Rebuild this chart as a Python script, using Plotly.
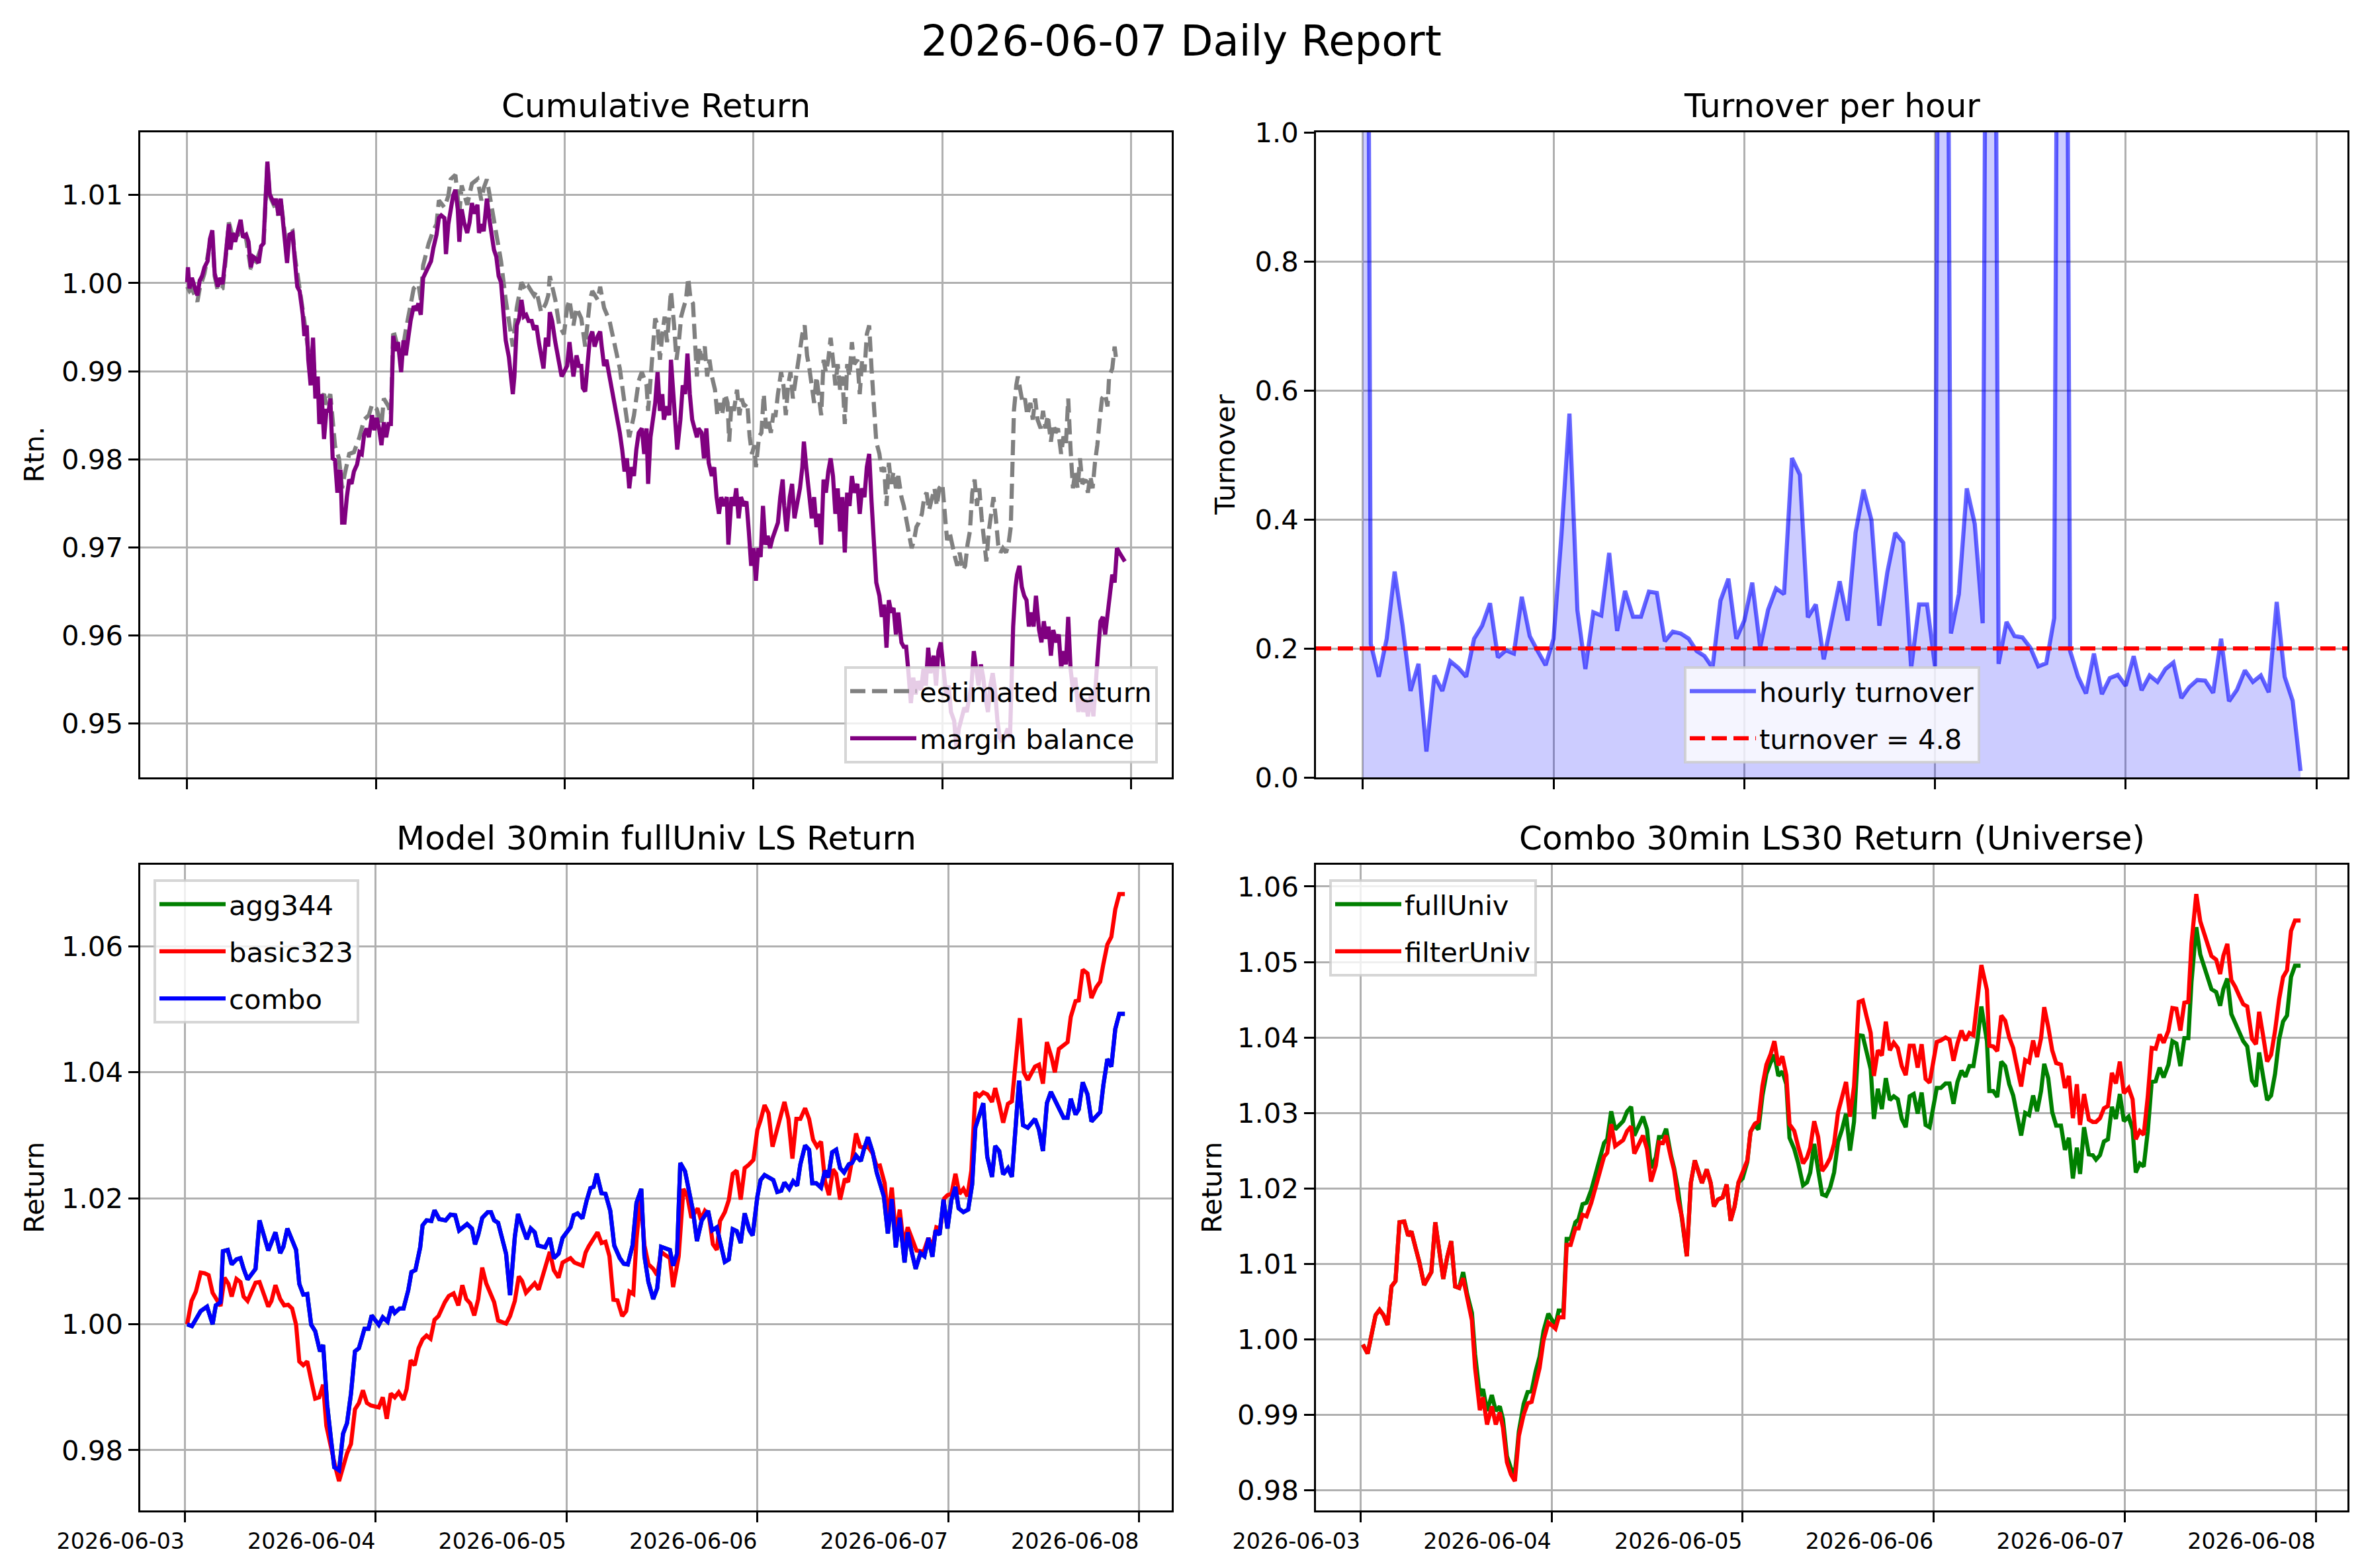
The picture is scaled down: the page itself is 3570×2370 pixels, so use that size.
import pandas as pd
import plotly.graph_objects as go

START = pd.Timestamp("2026-06-03 00:00")
REPORT_TITLE = "2026-06-07 Daily Report"

# ---------------- Cumulative Return: (hours since start, value) ----------------
est_return = [(0.0,0.9996),(0.3,0.9991),(0.6,0.9994),(1.0,0.9984),(1.3,0.9979),(1.6,0.9994),(2.2,1.0011),(2.9,1.0045),(3.2,1.0055),(3.5,1.0008),(3.9,0.9991),(4.5,0.9994),(4.8,1.0018),(5.3,1.0069),(5.8,1.0052),(6.5,1.0055),(6.8,1.0067),(7.5,1.0050),(8.1,1.0016),(8.7,1.0023),(9.4,1.0040),(9.7,1.0042),(10.0,1.0106),(10.2,1.0135),(10.5,1.0099),(11.1,1.0087),(11.6,1.0077),(11.9,1.0094),(12.5,1.0050),(13.0,1.0057),(13.4,1.0059),(13.7,1.0030),(14.3,0.9996),(14.9,0.9957),(15.4,0.9923),(16.0,0.9918),(16.3,0.9888),(16.8,0.9869),(17.4,0.9874),(17.7,0.9862),(18.2,0.9874),(18.8,0.9815),(19.3,0.9801),(19.7,0.9767),(20.0,0.9782),(20.6,0.9806),(21.2,0.9808),(21.9,0.9825),(22.5,0.9845),(23.1,0.9850),(23.5,0.9862),(24.1,0.9857),(24.7,0.9838),(25.0,0.9869),(25.6,0.9860),(25.9,0.9850),(26.2,0.9947),(26.5,0.9938),(27.2,0.9913),(27.8,0.9947),(28.4,0.9972),(28.8,0.9994),(29.4,0.9999),(29.7,0.9981),(30.0,1.0020),(30.7,1.0045),(31.3,1.0060),(31.7,1.0067),(32.0,1.0094),(32.7,1.0086),(33.2,1.0099),(33.5,1.0118),(34.1,1.0123),(34.6,1.0079),(34.9,1.0111),(35.6,1.0089),(36.2,1.0113),(36.9,1.0118),(37.4,1.0094),(37.7,1.0108),(38.1,1.0118),(38.7,1.0089),(39.3,1.0060),(39.9,1.0025),(40.5,0.9981),(40.9,0.9957),(41.4,0.9928),(41.9,0.9972),(42.2,0.9986),(42.5,1.0001),(43.1,0.9991),(43.4,0.9996),(44.1,0.9986),(44.4,0.9991),(45.0,0.9967),(45.6,0.9977),(45.9,0.9986),(46.1,1.0008),(46.8,0.9981),(47.3,0.9952),(47.9,0.9942),(48.3,0.9972),(48.6,0.9981),(49.1,0.9952),(49.5,0.9972),(50.1,0.9960),(50.6,0.9928),(50.9,0.9957),(51.2,0.9981),(51.5,0.9991),(52.2,0.9981),(52.5,0.9996),(53.0,0.9972),(53.7,0.9957),(54.3,0.9933),(55.0,0.9903),(55.6,0.9864),(55.9,0.9845),(56.2,0.9825),(56.8,0.9850),(57.4,0.9889),(57.8,0.9899),(58.4,0.9884),(58.6,0.9855),(58.9,0.9894),(59.2,0.9928),(59.5,0.9960),(59.8,0.9952),(60.1,0.9913),(60.4,0.9942),(60.7,0.9962),(61.0,0.9933),(61.3,0.9967),(61.5,0.9991),(61.9,0.9952),(62.2,0.9913),(62.5,0.9933),(62.8,0.9962),(63.1,0.9972),(63.4,0.9981),(63.7,1.0006),(64.0,0.9981),(64.3,0.9977),(64.6,0.9923),(64.8,0.9894),(65.1,0.9928),(65.4,0.9913),(65.8,0.9928),(66.1,0.9894),(66.4,0.9913),(66.7,0.9894),(67.1,0.9879),(67.4,0.9850),(67.7,0.9864),(68.0,0.9850),(68.4,0.9874),(68.7,0.9864),(68.9,0.9820),(69.2,0.9864),(69.5,0.9855),(69.9,0.9879),(70.2,0.9850),(70.5,0.9869),(70.8,0.9860),(71.2,0.9864),(71.5,0.9826),(71.8,0.9806),(72.1,0.9816),(72.3,0.9791),(72.7,0.9826),(73.0,0.9830),(73.3,0.9874),(73.6,0.9835),(73.9,0.9845),(74.2,0.9830),(74.5,0.9850),(74.8,0.9850),(75.1,0.9874),(75.5,0.9899),(75.8,0.9884),(76.1,0.9850),(76.4,0.9884),(76.7,0.9899),(77.0,0.9869),(77.3,0.9889),(77.6,0.9908),(77.9,0.9923),(78.2,0.9942),(78.5,0.9952),(78.8,0.9918),(79.1,0.9903),(79.4,0.9884),(79.7,0.9864),(80.0,0.9894),(80.3,0.9869),(80.6,0.9850),(80.9,0.9913),(81.2,0.9899),(81.5,0.9913),(81.8,0.9938),(82.1,0.9913),(82.4,0.9884),(82.7,0.9908),(83.0,0.9879),(83.3,0.9894),(83.6,0.9840),(83.9,0.9908),(84.2,0.9894),(84.5,0.9933),(84.8,0.9908),(85.2,0.9913),(85.5,0.9874),(85.8,0.9913),(86.1,0.9899),(86.4,0.9942),(86.7,0.9952),(87.0,0.9903),(87.3,0.9860),(87.6,0.9820),(88.0,0.9806),(88.3,0.9786),(88.6,0.9791),(88.9,0.9747),(89.2,0.9796),(89.5,0.9772),(89.8,0.9786),(90.1,0.9767),(90.4,0.9781),(90.8,0.9757),(91.1,0.9747),(91.4,0.9733),(91.7,0.9718),(92.1,0.9699),(92.4,0.9708),(92.7,0.9723),(93.0,0.9728),(93.4,0.9738),(93.7,0.9757),(94.0,0.9762),(94.3,0.9742),(94.7,0.9757),(95.0,0.9767),(95.3,0.9747),(95.6,0.9767),(96.0,0.9772),(96.3,0.9738),(96.6,0.9708),(96.9,0.9718),(97.2,0.9703),(97.6,0.9689),(97.9,0.9679),(98.2,0.9694),(98.6,0.9674),(98.9,0.9679),(99.2,0.9703),(99.5,0.9718),(99.8,0.9762),(100.1,0.9777),(100.4,0.9747),(100.7,0.9767),(101.0,0.9733),(101.3,0.9703),(101.6,0.9684),(101.9,0.9718),(102.2,0.9742),(102.5,0.9757),(102.8,0.9733),(103.1,0.9703),(103.4,0.9694),(103.7,0.9699),(104.1,0.9694),(104.4,0.9703),(104.7,0.9723),(104.9,0.9796),(105.1,0.9855),(105.4,0.9884),(105.6,0.9894),(105.9,0.9879),(106.2,0.9864),(106.5,0.9869),(106.8,0.9850),(107.2,0.9864),(107.5,0.9845),(107.8,0.9869),(108.1,0.9845),(108.5,0.9835),(108.8,0.9855),(109.1,0.9835),(109.4,0.9850),(109.8,0.9820),(110.1,0.9840),(110.4,0.9830),(110.7,0.9835),(111.1,0.9806),(111.4,0.9826),(111.7,0.9816),(112.0,0.9869),(112.3,0.9811),(112.6,0.9767),(112.9,0.9786),(113.2,0.9767),(113.5,0.9801),(113.8,0.9772),(114.2,0.9777),(114.5,0.9762),(114.8,0.9781),(115.1,0.9767),(115.4,0.9796),(115.7,0.9816),(116.0,0.9845),(116.3,0.9869),(116.7,0.9874),(117.0,0.9860),(117.2,0.9894),(117.6,0.9903),(117.9,0.9928),(118.1,0.9913)]

margin_balance = [(0.0,1.0001),(0.1,1.0018),(0.3,0.9994),(0.6,1.0006),(1.0,0.9994),(1.3,0.9986),(1.6,1.0003),(1.9,1.0008),(2.2,1.0018),(2.6,1.0025),(2.9,1.0050),(3.2,1.0060),(3.5,1.0011),(3.9,0.9996),(4.2,1.0006),(4.5,0.9999),(4.8,1.0023),(5.3,1.0067),(5.5,1.0038),(5.8,1.0057),(6.1,1.0047),(6.5,1.0062),(6.8,1.0072),(7.1,1.0052),(7.5,1.0055),(7.8,1.0047),(8.1,1.0018),(8.4,1.0030),(8.7,1.0028),(9.1,1.0023),(9.4,1.0042),(9.7,1.0045),(10.0,1.0108),(10.2,1.0138),(10.5,1.0101),(10.8,1.0096),(11.1,1.0089),(11.3,1.0096),(11.6,1.0077),(11.9,1.0096),(12.2,1.0069),(12.5,1.0042),(12.7,1.0023),(13.0,1.0055),(13.4,1.0057),(13.7,1.0025),(14.0,0.9996),(14.3,0.9991),(14.7,0.9964),(14.9,0.9940),(15.2,0.9952),(15.4,0.9913),(15.7,0.9884),(16.0,0.9938),(16.3,0.9869),(16.6,0.9894),(16.8,0.9840),(17.1,0.9874),(17.4,0.9823),(17.7,0.9855),(18.0,0.9855),(18.2,0.9869),(18.5,0.9801),(18.8,0.9799),(19.1,0.9762),(19.3,0.9786),(19.5,0.9786),(19.7,0.9728),(20.0,0.9728),(20.3,0.9757),(20.6,0.9777),(20.9,0.9772),(21.2,0.9786),(21.6,0.9794),(21.9,0.9808),(22.2,0.9806),(22.5,0.9828),(22.8,0.9835),(23.1,0.9825),(23.5,0.9850),(23.8,0.9833),(24.1,0.9847),(24.4,0.9835),(24.7,0.9816),(25.0,0.9842),(25.3,0.9825),(25.6,0.9840),(25.9,0.9840),(26.2,0.9940),(26.5,0.9923),(26.8,0.9933),(27.2,0.9899),(27.5,0.9935),(27.8,0.9918),(28.1,0.9942),(28.4,0.9957),(28.8,0.9974),(29.1,0.9969),(29.4,0.9977),(29.7,0.9964),(30.0,1.0006),(30.4,1.0013),(30.7,1.0020),(31.0,1.0025),(31.3,1.0040),(31.7,1.0055),(32.0,1.0074),(32.3,1.0077),(32.7,1.0074),(32.9,1.0033),(33.2,1.0067),(33.5,1.0084),(33.8,1.0099),(34.1,1.0106),(34.4,1.0084),(34.6,1.0047),(34.9,1.0084),(35.2,1.0069),(35.6,1.0057),(35.9,1.0069),(36.2,1.0091),(36.5,1.0079),(36.9,1.0089),(37.1,1.0057),(37.4,1.0067),(37.7,1.0059),(38.1,1.0096),(38.4,1.0074),(38.7,1.0052),(39.0,1.0038),(39.3,1.0030),(39.6,1.0008),(39.9,1.0001),(40.2,0.9972),(40.5,0.9935),(40.9,0.9916),(41.2,0.9894),(41.4,0.9874),(41.6,0.9894),(41.9,0.9952),(42.2,0.9960),(42.5,0.9981),(42.8,0.9962),(43.1,0.9964),(43.4,0.9957),(43.8,0.9957),(44.1,0.9947),(44.4,0.9952),(44.7,0.9933),(45.0,0.9918),(45.3,0.9903),(45.6,0.9938),(45.9,0.9928),(46.1,0.9967),(46.4,0.9957),(46.8,0.9933),(47.1,0.9918),(47.3,0.9903),(47.6,0.9894),(47.9,0.9899),(48.3,0.9906),(48.6,0.9933),(48.9,0.9913),(49.1,0.9894),(49.5,0.9918),(49.8,0.9906),(50.1,0.9906),(50.3,0.9881),(50.6,0.9877),(50.9,0.9911),(51.2,0.9938),(51.5,0.9945),(51.8,0.9928),(52.2,0.9940),(52.5,0.9945),(52.7,0.9928),(53.0,0.9906),(53.3,0.9913),(53.7,0.9894),(54.0,0.9879),(54.3,0.9864),(54.7,0.9850),(55.0,0.9830),(55.3,0.9811),(55.6,0.9786),(55.9,0.9801),(56.2,0.9767),(56.5,0.9791),(56.8,0.9781),(57.1,0.9811),(57.4,0.9830),(57.8,0.9835),(58.1,0.9806),(58.4,0.9835),(58.6,0.9772),(58.9,0.9825),(59.2,0.9845),(59.5,0.9864),(59.8,0.9899),(60.1,0.9855),(60.4,0.9874),(60.6,0.9845),(61.0,0.9860),(61.3,0.9850),(61.5,0.9913),(61.8,0.9874),(62.1,0.9845),(62.3,0.9811),(62.7,0.9845),(63.0,0.9884),(63.3,0.9874),(63.6,0.9920),(63.9,0.9874),(64.2,0.9845),(64.5,0.9835),(64.8,0.9825),(65.0,0.9835),(65.4,0.9830),(65.7,0.9801),(66.0,0.9835),(66.3,0.9796),(66.7,0.9781),(67.0,0.9791),(67.3,0.9757),(67.6,0.9738),(67.9,0.9757),(68.2,0.9747),(68.6,0.9757),(68.8,0.9703),(69.2,0.9757),(69.5,0.9747),(69.8,0.9767),(70.1,0.9733),(70.4,0.9757),(70.8,0.9747),(71.1,0.9752),(71.4,0.9718),(71.7,0.9679),(72.0,0.9699),(72.3,0.9662),(72.6,0.9699),(72.9,0.9689),(73.2,0.9747),(73.5,0.9703),(73.8,0.9713),(74.1,0.9699),(74.4,0.9710),(74.7,0.9718),(75.1,0.9728),(75.4,0.9757),(75.7,0.9777),(75.9,0.9747),(76.2,0.9718),(76.6,0.9757),(76.9,0.9772),(77.2,0.9733),(77.5,0.9747),(77.9,0.9767),(78.2,0.9791),(78.4,0.9820),(78.7,0.9791),(79.0,0.9762),(79.4,0.9733),(79.7,0.9757),(80.0,0.9723),(80.3,0.9738),(80.6,0.9703),(80.9,0.9777),(81.2,0.9762),(81.5,0.9786),(81.8,0.9801),(82.1,0.9781),(82.4,0.9738),(82.7,0.9767),(83.0,0.9718),(83.3,0.9757),(83.6,0.9694),(83.9,0.9762),(84.2,0.9747),(84.5,0.9781),(84.8,0.9762),(85.2,0.9772),(85.5,0.9738),(85.8,0.9767),(86.1,0.9757),(86.4,0.9791),(86.7,0.9806),(87.0,0.9752),(87.3,0.9699),(87.6,0.9660),(88.0,0.9645),(88.3,0.9621),(88.6,0.9635),(88.9,0.9586),(89.2,0.9640),(89.5,0.9626),(89.8,0.9631),(90.1,0.9601),(90.4,0.9626),(90.8,0.9592),(91.1,0.9587),(91.4,0.9587),(91.7,0.9557),(92.0,0.9523),(92.3,0.9552),(92.6,0.9533),(92.9,0.9548),(93.3,0.9538),(93.6,0.9562),(93.9,0.9543),(94.2,0.9586),(94.5,0.9557),(94.9,0.9577),(95.2,0.9543),(95.5,0.9582),(95.8,0.9592),(96.2,0.9557),(96.5,0.9533),(96.8,0.9543),(97.1,0.9513),(97.5,0.9503),(97.8,0.9472),(98.1,0.9494),(98.4,0.9503),(98.8,0.9518),(99.1,0.9513),(99.4,0.9528),(99.7,0.9543),(100.0,0.9582),(100.3,0.9562),(100.6,0.9543),(100.9,0.9567),(101.2,0.9552),(101.5,0.9528),(101.8,0.9513),(102.1,0.9543),(102.4,0.9557),(102.7,0.9538),(103.0,0.9503),(103.3,0.9484),(103.6,0.9479),(103.9,0.9484),(104.3,0.9494),(104.6,0.9484),(104.8,0.9552),(105.0,0.9610),(105.3,0.9655),(105.5,0.9669),(105.8,0.9679),(106.1,0.9655),(106.4,0.9645),(106.7,0.9640),(107.0,0.9610),(107.3,0.9626),(107.6,0.9610),(107.9,0.9645),(108.3,0.9606),(108.6,0.9592),(108.9,0.9616),(109.2,0.9596),(109.5,0.9610),(109.8,0.9577),(110.1,0.9606),(110.5,0.9592),(110.8,0.9601),(111.1,0.9562),(111.4,0.9582),(111.7,0.9567),(112.0,0.9621),(112.3,0.9562),(112.6,0.9538),(112.9,0.9552),(113.3,0.9513),(113.6,0.9533),(113.9,0.9513),(114.2,0.9528),(114.5,0.9508),(114.9,0.9533),(115.2,0.9508),(115.5,0.9552),(115.8,0.9582),(116.1,0.9616),(116.4,0.9621),(116.7,0.9601),(117.0,0.9621),(117.4,0.9650),(117.6,0.9669),(117.9,0.9660),(118.2,0.9699),(118.5,0.9694),(118.8,0.9689),(119.2,0.9684)]

# ---------------- Turnover per hour (one value per hour from START) ----------------
hourly_turnover = [3.5,0.207,0.156,0.215,0.319,0.235,0.134,0.176,0.040,0.158,0.134,0.180,0.170,0.156,0.215,0.235,0.270,0.186,0.197,0.192,
                   0.280,0.219,0.196,0.174,0.215,0.377,0.564,0.259,0.168,0.256,0.251,0.348,0.227,0.289,0.249,0.249,0.288,0.286,0.211,0.226,
                   0.223,0.215,0.196,0.188,0.170,0.274,0.308,0.215,0.243,0.302,0.202,0.260,0.293,0.284,0.495,0.469,0.248,0.268,0.183,0.243,
                   0.304,0.243,0.379,0.446,0.399,0.235,0.318,0.379,0.364,0.170,0.268,0.268,0.172,3.0,0.223,0.284,0.448,0.393,0.239,3.0,
                   0.176,0.241,0.219,0.217,0.201,0.172,0.177,0.247,3.0,0.196,0.156,0.130,0.192,0.129,0.154,0.159,0.142,0.188,0.135,0.158,
                   0.148,0.168,0.178,0.123,0.140,0.151,0.150,0.131,0.215,0.118,0.136,0.166,0.148,0.158,0.132,0.272,0.156,0.119,0.010]
DAILY_TURNOVER = 4.8

# ---------------- Model 30min fullUniv LS Return ----------------
combo = [(0.3,1.0000),(0.9,0.9997),(2.0,1.0021),(2.8,1.0028),(3.5,1.0000),(3.9,1.0030),(4.5,1.0035),(4.8,1.0116),(5.4,1.0118),(5.9,1.0095),(6.5,1.0103),(7.0,1.0105),(7.4,1.0088),(7.9,1.0071),(8.9,1.0088),(9.4,1.0165),(10.5,1.0117),(11.4,1.0146),(12.0,1.0113),(12.4,1.0123),(12.9,1.0152),(13.5,1.0132),(14.0,1.0118),(14.4,1.0064),(14.9,1.0047),(15.4,1.0048),(15.9,0.9999),(16.4,0.9989),(17.0,0.9957),(17.4,0.9967),(17.9,0.9873),(18.4,0.9816),(18.8,0.9773),(19.4,0.9768),(19.9,0.9826),(20.4,0.9843),(20.9,0.9890),(21.4,0.9957),(21.9,0.9962),(22.6,0.9993),(23.1,0.9993),(23.5,1.0014),(24.4,0.9999),(24.9,1.0011),(25.5,1.0004),(26.0,1.0028),(26.4,1.0018),(27.0,1.0025),(27.5,1.0025),(28.1,1.0054),(28.5,1.0083),(29.0,1.0086),(29.6,1.0122),(29.9,1.0157),(30.4,1.0165),(31.0,1.0164),(31.4,1.0181),(32.0,1.0167),(32.8,1.0165),(33.4,1.0174),(34.0,1.0173),(34.5,1.0149),(35.5,1.0159),(36.1,1.0152),(36.5,1.0127),(36.9,1.0142),(37.4,1.0169),(38.1,1.0178),(38.5,1.0178),(38.9,1.0165),(39.4,1.0161),(40.4,1.0112),(40.9,1.0046),(41.5,1.0139),(41.9,1.0175),(42.4,1.0156),(43.0,1.0135),(43.5,1.0152),(44.0,1.0146),(44.4,1.0125),(45.3,1.0122),(45.9,1.0137),(46.4,1.0105),(47.0,1.0112),(47.5,1.0137),(48.5,1.0154),(48.9,1.0173),(49.4,1.0176),(50.0,1.0168),(50.5,1.0195),(51.0,1.0216),(51.4,1.0218),(51.8,1.0239),(52.4,1.0208),(52.9,1.0207),(53.5,1.0180),(54.0,1.0125),(54.7,1.0105),(55.2,1.0096),(55.7,1.0095),(56.3,1.0125),(56.8,1.0193),(57.4,1.0215),(57.8,1.0108),(58.3,1.0067),(58.9,1.0040),(59.4,1.0057),(59.9,1.0123),(61.0,1.0118),(61.4,1.0093),(61.9,1.0112),(62.3,1.0256),(62.9,1.0243),(63.9,1.0180),(64.4,1.0132),(65.0,1.0165),(65.8,1.0180),(66.3,1.0149),(66.9,1.0154),(67.9,1.0099),(68.4,1.0103),(68.9,1.0151),(69.4,1.0148),(69.9,1.0129),(70.4,1.0176),(71.0,1.0149),(71.4,1.0141),(72.0,1.0203),(72.4,1.0229),(72.9,1.0237),(73.5,1.0232),(74.0,1.0229),(74.5,1.0210),(75.0,1.0212),(75.4,1.0225),(76.0,1.0215),(76.5,1.0227),(77.0,1.0220),(77.4,1.0254),(78.0,1.0284),(78.5,1.0277),(78.9,1.0224),(79.4,1.0224),(80.0,1.0217),(80.5,1.0244),(80.9,1.0233),(81.4,1.0273),(81.9,1.0277),(82.4,1.0248),(82.9,1.0241),(83.5,1.0254),(83.9,1.0256),(84.4,1.0268),(85.0,1.0259),(85.4,1.0278),(85.9,1.0297),(86.5,1.0273),(87.0,1.0241),(87.4,1.0224),(87.9,1.0203),(88.4,1.0144),(88.9,1.0199),(89.4,1.0122),(89.9,1.0169),(90.5,1.0098),(90.9,1.0146),(91.4,1.0115),(91.9,1.0088),(92.5,1.0113),(93.0,1.0108),(93.5,1.0137),(94.0,1.0107),(94.4,1.0149),(94.9,1.0142),(95.4,1.0198),(95.9,1.0152),(96.4,1.0198),(96.9,1.0218),(97.3,1.0184),(97.9,1.0178),(98.5,1.0182),(99.0,1.0222),(99.4,1.0312),(100.4,1.0351),(100.9,1.0266),(101.5,1.0234),(101.9,1.0283),(102.4,1.0275),(102.9,1.0238),(103.5,1.0248),(104.0,1.0234),(104.9,1.0387),(105.4,1.0316),(106.0,1.0312),(106.9,1.0326),(107.4,1.0309),(107.9,1.0275),(108.4,1.0351),(108.9,1.0369),(109.4,1.0355),(110.0,1.0341),(110.5,1.0328),(111.0,1.0328),(111.4,1.0358),(112.0,1.0333),(112.4,1.0341),(112.9,1.0384),(113.5,1.0365),(114.0,1.0322),(114.5,1.0328),(115.1,1.0337),(115.5,1.0380),(116.0,1.0421),(116.5,1.0409),(117.0,1.0469),(117.5,1.0493),(118.2,1.0493)]
agg344 = list(combo)  # agg344 coincides with combo and is hidden under it
basic323 = [(0.3,1.0000),(0.85,1.0037),(1.4,1.0052),(2.0,1.0082),(2.5,1.0081),(3.0,1.0078),(3.5,1.0050),(4.0,1.0040),(4.5,1.0029),(5.0,1.0074),(5.5,1.0064),(5.9,1.0044),(6.5,1.0072),(7.0,1.0067),(7.4,1.0044),(7.9,1.0037),(8.9,1.0066),(9.4,1.0067),(10.5,1.0028),(10.9,1.0037),(11.4,1.0062),(12.0,1.0040),(12.5,1.0030),(13.0,1.0031),(13.5,1.0025),(14.0,0.9999),(14.4,0.9941),(14.9,0.9935),(15.4,0.9941),(15.9,0.9911),(16.4,0.9882),(16.9,0.9884),(17.4,0.9904),(17.8,0.9839),(18.3,0.9809),(18.9,0.9775),(19.4,0.9751),(19.9,0.9775),(20.4,0.9795),(20.9,0.9810),(21.4,0.9865),(21.9,0.9875),(22.4,0.9895),(22.9,0.9875),(23.4,0.9871),(24.4,0.9868),(24.9,0.9884),(25.4,0.9850),(25.9,0.9890),(26.4,0.9884),(26.9,0.9892),(27.5,0.9880),(27.9,0.9897),(28.4,0.9943),(28.9,0.9935),(29.4,0.9962),(29.9,0.9976),(30.4,0.9982),(30.9,0.9977),(31.4,1.0007),(31.9,1.0013),(32.7,1.0035),(33.2,1.0045),(33.8,1.0049),(34.4,1.0030),(34.9,1.0062),(35.4,1.0040),(35.9,1.0033),(36.4,1.0014),(36.9,1.0040),(37.4,1.0090),(37.9,1.0065),(38.4,1.0050),(38.9,1.0035),(39.4,1.0006),(40.4,1.0001),(40.9,1.0013),(41.5,1.0037),(42.0,1.0076),(42.4,1.0069),(42.9,1.0050),(43.5,1.0058),(44.0,1.0065),(44.5,1.0055),(45.1,1.0084),(45.5,1.0098),(45.9,1.0115),(46.4,1.0086),(47.0,1.0074),(47.5,1.0098),(48.5,1.0105),(49.0,1.0098),(50.0,1.0093),(50.4,1.0114),(50.8,1.0124),(51.3,1.0135),(51.9,1.0146),(52.4,1.0129),(52.9,1.0131),(53.4,1.0108),(53.9,1.0039),(54.4,1.0038),(55.0,1.0013),(55.5,1.0021),(55.9,1.0052),(56.4,1.0048),(56.8,1.0135),(57.3,1.0203),(57.8,1.0125),(58.3,1.0095),(58.9,1.0088),(59.4,1.0078),(59.9,1.0115),(60.4,1.0110),(61.0,1.0105),(61.4,1.0059),(62.1,1.0108),(62.7,1.0215),(63.2,1.0203),(63.7,1.0169),(64.5,1.0184),(64.9,1.0166),(65.4,1.0180),(65.9,1.0173),(66.4,1.0127),(66.9,1.0118),(67.3,1.0164),(67.9,1.0178),(68.4,1.0197),(68.9,1.0239),(69.4,1.0244),(69.9,1.0198),(70.4,1.0248),(70.9,1.0253),(71.5,1.0261),(72.0,1.0309),(72.4,1.0324),(72.9,1.0348),(73.4,1.0335),(73.9,1.0282),(74.5,1.0311),(75.0,1.0329),(75.4,1.0353),(75.9,1.0326),(76.4,1.0263),(76.9,1.0326),(77.4,1.0326),(78.0,1.0343),(78.5,1.0326),(79.0,1.0293),(79.5,1.0282),(80.0,1.0290),(80.5,1.0227),(81.0,1.0205),(81.5,1.0246),(81.9,1.0239),(82.4,1.0198),(83.0,1.0231),(83.4,1.0226),(83.9,1.0261),(84.4,1.0303),(84.9,1.0282),(85.4,1.0280),(85.9,1.0282),(86.5,1.0271),(87.0,1.0251),(87.4,1.0252),(88.0,1.0224),(88.4,1.0169),(88.9,1.0217),(89.4,1.0142),(89.9,1.0182),(90.4,1.0125),(90.9,1.0154),(91.4,1.0139),(92.0,1.0117),(92.5,1.0116),(92.9,1.0115),(93.5,1.0137),(94.0,1.0123),(94.5,1.0154),(95.0,1.0152),(95.5,1.0200),(95.9,1.0205),(96.4,1.0207),(96.9,1.0239),(97.4,1.0207),(97.9,1.0215),(98.4,1.0203),(98.9,1.0244),(99.4,1.0368),(99.9,1.0362),(100.4,1.0368),(100.9,1.0365),(101.5,1.0353),(101.9,1.0375),(102.4,1.0350),(102.9,1.0320),(103.5,1.0350),(104.0,1.0354),(104.4,1.0407),(105.0,1.0486),(105.5,1.0400),(106.0,1.0388),(106.9,1.0409),(107.4,1.0412),(107.9,1.0382),(108.4,1.0448),(109.0,1.0423),(109.4,1.0400),(109.9,1.0437),(110.5,1.0443),(111.0,1.0448),(111.4,1.0488),(112.0,1.0513),(112.4,1.0514),(112.9,1.0563),(113.5,1.0557),(114.0,1.0518),(114.6,1.0535),(115.1,1.0544),(115.5,1.0572),(116.0,1.0603),(116.5,1.0615),(117.0,1.0659),(117.5,1.0683),(118.2,1.0683)]

# ---------------- Combo 30min LS30 Return (Universe): (hours, fullUniv, filterUniv) ----------------
universe = [(0.3,0.9993,0.9993),(0.9,0.9981,0.9981),(1.9,1.0032,1.0032),(2.4,1.0039,1.0039),(2.9,1.0032,1.0032),(3.4,1.0019,1.0019),(3.9,1.0070,1.0070),(4.4,1.0077,1.0077),(4.9,1.0155,1.0155),(5.5,1.0156,1.0156),(6.0,1.0137,1.0137),(6.4,1.0143,1.0143),(6.9,1.0122,1.0122),(7.4,1.0102,1.0102),(8.0,1.0072,1.0072),(8.9,1.0089,1.0089),(9.4,1.0155,1.0155),(9.9,1.0119,1.0119),(10.4,1.0080,1.0080),(10.9,1.0109,1.0109),(11.4,1.0130,1.0130),(11.9,1.0070,1.0070),(12.4,1.0068,1.0068),(12.9,1.0089,1.0081),(13.4,1.0060,1.0053),(14.0,1.0035,1.0025),(14.4,0.9980,0.9962),(15.0,0.9925,0.9906),(15.4,0.9934,0.9923),(15.9,0.9905,0.9887),(16.5,0.9926,0.9911),(17.0,0.9905,0.9887),(17.5,0.9911,0.9903),(17.9,0.9894,0.9883),(18.4,0.9845,0.9837),(18.9,0.9829,0.9821),(19.4,0.9822,0.9812),(19.9,0.9878,0.9872),(20.5,0.9914,0.9900),(21.0,0.9930,0.9915),(21.5,0.9931,0.9917),(22.0,0.9957,0.9940),(22.5,0.9977,0.9962),(23.0,1.0011,0.9999),(23.6,1.0034,1.0022),(24.1,1.0025,1.0018),(24.5,1.0019,1.0014),(24.9,1.0038,1.0029),(25.5,1.0038,1.0029),(25.9,1.0133,1.0125),(26.4,1.0133,1.0125),(27.0,1.0155,1.0147),(27.4,1.0159,1.0147),(27.9,1.0179,1.0165),(28.4,1.0181,1.0163),(29.0,1.0198,1.0181),(29.5,1.0219,1.0200),(30.1,1.0241,1.0226),(30.6,1.0260,1.0242),(31.0,1.0265,1.0247),(31.5,1.0302,1.0285),(32.0,1.0278,1.0256),(32.5,1.0284,1.0260),(33.0,1.0289,1.0264),(33.5,1.0302,1.0276),(34.0,1.0308,1.0282),(34.4,1.0270,1.0246),(34.9,1.0282,1.0256),(35.5,1.0295,1.0270),(36.0,1.0278,1.0252),(36.5,1.0227,1.0209),(37.1,1.0241,1.0230),(37.5,1.0268,1.0261),(38.0,1.0268,1.0260),(38.4,1.0279,1.0270),(39.0,1.0244,1.0241),(39.4,1.0227,1.0224),(39.9,1.0198,1.0185),(40.4,1.0161,1.0161),(41.0,1.0110,1.0110),(41.5,1.0207,1.0207),(42.0,1.0237,1.0237),(42.5,1.0221,1.0221),(42.9,1.0207,1.0207),(43.5,1.0225,1.0225),(44.0,1.0207,1.0207),(44.4,1.0176,1.0176),(44.9,1.0185,1.0185),(45.5,1.0188,1.0188),(46.0,1.0205,1.0205),(46.5,1.0157,1.0157),(47.0,1.0176,1.0176),(47.5,1.0208,1.0208),(48.0,1.0213,1.0222),(48.6,1.0235,1.0237),(49.0,1.0275,1.0275),(49.5,1.0284,1.0285),(50.0,1.0278,1.0289),(50.5,1.0323,1.0336),(51.0,1.0352,1.0364),(51.5,1.0366,1.0377),(52.0,1.0377,1.0395),(52.5,1.0349,1.0363),(53.0,1.0355,1.0375),(53.5,1.0338,1.0350),(53.9,1.0267,1.0285),(54.5,1.0252,1.0276),(55.0,1.0233,1.0255),(55.6,1.0204,1.0233),(56.1,1.0208,1.0241),(56.5,1.0221,1.0254),(57.0,1.0259,1.0289),(57.5,1.0224,1.0268),(58.0,1.0192,1.0223),(58.5,1.0190,1.0230),(59.0,1.0201,1.0240),(59.5,1.0221,1.0259),(60.0,1.0262,1.0301),(60.5,1.0278,1.0324),(61.0,1.0299,1.0341),(61.5,1.0250,1.0295),(62.0,1.0288,1.0335),(62.6,1.0403,1.0447),(63.1,1.0402,1.0449),(63.6,1.0380,1.0427),(64.1,1.0358,1.0406),(64.5,1.0292,1.0349),(65.0,1.0332,1.0383),(65.5,1.0305,1.0376),(66.0,1.0346,1.0421),(66.5,1.0317,1.0383),(67.0,1.0322,1.0393),(67.5,1.0318,1.0386),(68.0,1.0292,1.0362),(68.5,1.0281,1.0350),(69.0,1.0322,1.0389),(69.5,1.0325,1.0389),(70.0,1.0299,1.0360),(70.5,1.0327,1.0391),(71.0,1.0284,1.0345),(71.5,1.0281,1.0340),(72.0,1.0314,1.0371),(72.4,1.0333,1.0394),(72.9,1.0333,1.0396),(73.5,1.0339,1.0400),(74.0,1.0339,1.0397),(74.5,1.0312,1.0369),(75.0,1.0341,1.0392),(75.5,1.0356,1.0409),(76.0,1.0348,1.0396),(76.5,1.0362,1.0406),(77.0,1.0362,1.0403),(77.5,1.0395,1.0451),(78.0,1.0441,1.0496),(78.7,1.0395,1.0463),(79.0,1.0329,1.0389),(79.5,1.0329,1.0388),(80.0,1.0321,1.0382),(80.5,1.0368,1.0429),(81.0,1.0362,1.0422),(81.5,1.0338,1.0400),(82.0,1.0323,1.0386),(82.5,1.0295,1.0360),(83.0,1.0270,1.0335),(83.5,1.0300,1.0370),(84.0,1.0297,1.0367),(84.5,1.0323,1.0396),(85.0,1.0302,1.0374),(85.5,1.0329,1.0399),(85.9,1.0365,1.0440),(86.4,1.0346,1.0414),(86.9,1.0301,1.0383),(87.4,1.0283,1.0366),(88.0,1.0283,1.0364),(88.5,1.0251,1.0333),(89.0,1.0267,1.0349),(89.5,1.0213,1.0293),(90.0,1.0254,1.0338),(90.4,1.0219,1.0284),(90.9,1.0281,1.0325),(91.5,1.0245,1.0291),(92.0,1.0244,1.0288),(92.4,1.0238,1.0288),(92.9,1.0244,1.0293),(93.4,1.0262,1.0306),(93.9,1.0265,1.0309),(94.4,1.0308,1.0353),(94.9,1.0292,1.0339),(95.4,1.0325,1.0368),(95.9,1.0289,1.0326),(96.5,1.0295,1.0333),(97.0,1.0278,1.0318),(97.4,1.0221,1.0265),(97.9,1.0233,1.0276),(98.4,1.0229,1.0271),(98.9,1.0275,1.0321),(99.4,1.0341,1.0386),(99.9,1.0342,1.0385),(100.4,1.0360,1.0404),(100.9,1.0347,1.0393),(101.5,1.0364,1.0409),(102.0,1.0395,1.0439),(102.5,1.0392,1.0438),(103.0,1.0362,1.0409),(103.5,1.0399,1.0446),(104.0,1.0399,1.0447),(104.4,1.0474,1.0525),(105.0,1.0546,1.0590),(105.5,1.0510,1.0554),(106.0,1.0494,1.0538),(106.4,1.0478,1.0521),(106.9,1.0464,1.0508),(107.5,1.0460,1.0503),(108.0,1.0442,1.0484),(108.4,1.0464,1.0508),(108.9,1.0478,1.0524),(109.4,1.0431,1.0476),(109.9,1.0418,1.0467),(110.4,1.0405,1.0455),(110.9,1.0395,1.0444),(111.4,1.0388,1.0441),(112.0,1.0343,1.0398),(112.5,1.0335,1.0391),(112.9,1.0380,1.0434),(113.4,1.0348,1.0402),(113.9,1.0317,1.0368),(114.4,1.0323,1.0377),(114.9,1.0352,1.0409),(115.4,1.0397,1.0450),(115.9,1.0421,1.0480),(116.4,1.0429,1.0489),(116.9,1.0480,1.0541),(117.4,1.0495,1.0555),(118.1,1.0495,1.0555)]

# ---------------- helpers ----------------
def times(hours):
    return [START + pd.Timedelta(hours=h) for h in hours]

def split(pairs):
    h = [p[0] for p in pairs]
    return times(h), [p[1] for p in pairs]

def pad_range(vals):
    lo, hi = min(vals), max(vals)
    p = 0.05 * (hi - lo)
    return [lo - p, hi + p]

def time_range(ts):
    lo, hi = min(ts), max(ts)
    p = (hi - lo) * 0.05
    return [(lo - p).strftime("%Y-%m-%d %H:%M:%S"), (hi + p).strftime("%Y-%m-%d %H:%M:%S")]

FONT = "DejaVu Sans"
LW = 6.25
TICK_FS = 41.7
XTICK_FS = 33.3

est_t, est_v = split(est_return)
mb_t, mb_v = split(margin_balance)
to_t = [START + pd.Timedelta(hours=i) for i in range(len(hourly_turnover))]
cb_t, cb_v = split(combo)
ag_t, ag_v = split(agg344)
bs_t, bs_v = split(basic323)
un_t = times([u[0] for u in universe])
full_v = [u[1] for u in universe]
filt_v = [u[2] for u in universe]

fig = go.Figure()

def line_trace(x, y, name, color, xa, ya, leg, dash=None):
    return go.Scatter(x=x, y=y, mode="lines", name=name, legendgroup=name,
                      line=dict(color=color, width=LW, dash=dash),
                      xaxis=xa, yaxis=ya, legend=leg)

# Top-left
fig.add_trace(line_trace(est_t, est_v, "estimated return", "#808080", "x", "y", "legend", "23px,10px"))
fig.add_trace(line_trace(mb_t, mb_v, "margin balance", "#800080", "x", "y", "legend"))
# Top-right
fig.add_trace(go.Scatter(x=to_t, y=hourly_turnover, mode="lines", fill="tozeroy",
                         fillcolor="rgba(0,0,255,0.2)", line=dict(width=0, color="rgba(0,0,255,0)"),
                         showlegend=False, hoverinfo="skip", xaxis="x2", yaxis="y2"))
fig.add_trace(line_trace(to_t, hourly_turnover, "hourly turnover", "rgba(0,0,255,0.6)", "x2", "y2", "legend2"))
# Bottom-left
fig.add_trace(line_trace(ag_t, ag_v, "agg344", "#008000", "x3", "y3", "legend3"))
fig.add_trace(line_trace(bs_t, bs_v, "basic323", "#ff0000", "x3", "y3", "legend3"))
fig.add_trace(line_trace(cb_t, cb_v, "combo", "#0000ff", "x3", "y3", "legend3"))
# Bottom-right
fig.add_trace(line_trace(un_t, full_v, "fullUniv", "#008000", "x4", "y4", "legend4"))
fig.add_trace(line_trace(un_t, filt_v, "filterUniv", "#ff0000", "x4", "y4", "legend4"))

# target line (daily turnover spread per hour)
target = DAILY_TURNOVER / 24
fig.add_shape(type="line", xref="x2 domain", yref="y2", x0=0, x1=1, y0=target, y1=target,
              line=dict(color="#ff0000", width=LW, dash="23px,10px"),
              showlegend=True, name=f"turnover = {DAILY_TURNOVER}", legend="legend2",
              legendgroup="target")

XD_L = [212/3570, 1771/3570]
XD_R = [1989/3570, 3548/3570]
YD_T = [1 - 1175/2370, 1 - 200/2370]
YD_B = [1 - 2283/2370, 1 - 1307/2370]

def base_axis():
    return dict(showline=True, linecolor="black", linewidth=3.3, mirror=True,
                ticks="outside", ticklen=14.6, tickwidth=3.3, tickcolor="black",
                showgrid=True, gridcolor="#b0b0b0", gridwidth=3.3, zeroline=False,
                automargin=False,
                tickfont=dict(family=FONT, size=TICK_FS, color="black"))

def xaxis(domain, anchor, ts, labels):
    a = base_axis()
    a.update(domain=domain, anchor=anchor, type="date", range=time_range(ts),
             tickformat="%Y-%m-%d", dtick=86400000, tick0="2026-06-03",
             showticklabels=labels, ticklabelshift=-97)
    a["tickfont"] = dict(family=FONT, size=XTICK_FS, color="black")
    return a

def yaxis(domain, anchor, rng, dtick, fmt):
    a = base_axis()
    a.update(domain=domain, anchor=anchor, range=rng, dtick=dtick, tickformat=fmt)
    return a

legend_base = dict(font=dict(family=FONT, size=TICK_FS, color="black"),
                   bgcolor="rgba(255,255,255,0.8)", bordercolor="rgba(204,204,204,0.8)",
                   borderwidth=4, itemwidth=100, traceorder="grouped", tracegroupgap=14)

def legend(**kw):
    d = dict(legend_base)
    d.update(kw)
    return d

ann = []
def text(x, y, s, size, angle=0):
    ann.append(dict(x=x, y=y, xref="paper", yref="paper", text=s, showarrow=False,
                    font=dict(family=FONT, size=size, color="black"),
                    xanchor="center", yanchor="middle", textangle=angle))

text(0.5, 1 - 62/2370, REPORT_TITLE, 64)
text(sum(XD_L)/2, 1 - 160/2370, "Cumulative Return", 50)
text(sum(XD_R)/2, 1 - 160/2370, "Turnover per hour", 50)
text(sum(XD_L)/2, 1 - 1267/2370, "Model 30min fullUniv LS Return", 50)
text(sum(XD_R)/2, 1 - 1267/2370, "Combo 30min LS30 Return (Universe)", 50)
text(51/3570, sum(YD_T)/2, "Rtn.", TICK_FS, -90)
text(1851/3570, sum(YD_T)/2, "Turnover", TICK_FS, -90)
text(51/3570, sum(YD_B)/2, "Return", TICK_FS, -90)
text(1831/3570, sum(YD_B)/2, "Return", TICK_FS, -90)

fig.update_layout(
    width=3570, height=2370,
    margin=dict(l=0, r=0, t=0, b=0, autoexpand=False),
    paper_bgcolor="white", plot_bgcolor="white",
    font=dict(family=FONT, color="black"),
    xaxis=xaxis(XD_L, "y", est_t + mb_t, False),
    yaxis=yaxis(YD_T, "x", pad_range(est_v + mb_v), 0.01, ".2f"),
    xaxis2=xaxis(XD_R, "y2", to_t, False),
    yaxis2=yaxis(YD_T, "x2", [0, 1], 0.2, ".1f"),
    xaxis3=xaxis(XD_L, "y3", bs_t + cb_t, True),
    yaxis3=yaxis(YD_B, "x3", pad_range(bs_v + cb_v + ag_v), 0.02, ".2f"),
    xaxis4=xaxis(XD_R, "y4", un_t, True),
    yaxis4=yaxis(YD_B, "x4", pad_range(full_v + filt_v), 0.01, ".2f"),
    legend=legend(x=1750/3570, y=1 - 1154/2370, xanchor="right", yanchor="bottom"),
    legend2=legend(x=2769/3570, y=1 - 1154/2370, xanchor="center", yanchor="bottom"),
    legend3=legend(x=232/3570, y=1 - 1329/2370, xanchor="left", yanchor="top"),
    legend4=legend(x=2009/3570, y=1 - 1329/2370, xanchor="left", yanchor="top"),
    annotations=ann,
    showlegend=True,
)

fig.write_html("out.html", config={"displayModeBar": False},
               post_script="document.body.style.margin='0';")
